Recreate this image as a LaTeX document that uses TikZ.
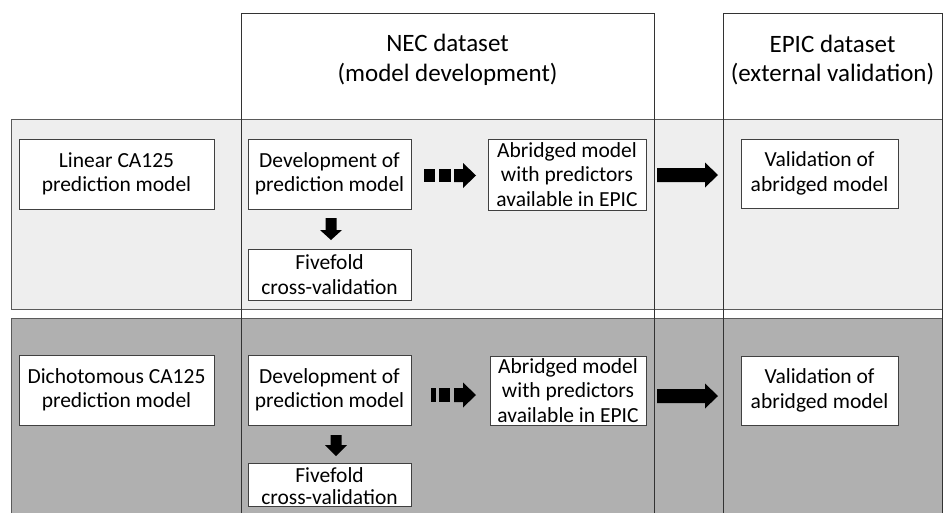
\documentclass[tikz,border=0pt]{standalone}
\usepackage{fontspec}
\setmainfont{Carlito}
\usetikzlibrary{calc}
\definecolor{boxline}{HTML}{404040}
\definecolor{colline}{HTML}{333333}
\definecolor{bandline}{HTML}{5A5A5A}
\definecolor{lightband}{HTML}{EEEEEE}
\definecolor{darkband}{HTML}{B0B0B0}
\begin{document}
\begin{tikzpicture}[x=1pt,y=-1pt,
  box/.style={draw=boxline, fill=white, line width=0.9pt, align=center, inner sep=0pt,
    font=\fontsize{21.5}{24.5}\selectfont},
  txt/.style={align=center, inner sep=0pt, font=\fontsize{21.5}{22.5}\selectfont},
  head/.style={align=center, inner sep=0pt, font=\fontsize{25}{29.5}\selectfont},
  band/.style={draw=bandline, line width=0.8pt},
  col/.style={draw=colline, line width=0.8pt},
  blk/.style={fill=black}]
\useasboundingbox (0,0) rectangle (944,512);
\clip (0,0) rectangle (944,512);
% bands
\path[band, fill=lightband] (11,119) rectangle (942,309);
\path[band, fill=darkband] (11,318) rectangle (942,530);
% columns
\path[col] (241,13) rectangle (654,530);
\path[col] (723,13) rectangle (942,530);
\node[head] (nec) at (447.5,60) {NEC dataset\\(model development)};
\node[head] (epic) at (832.5,60) {EPIC dataset\\(external validation)};
% row 1
\node[box, minimum width=195pt, minimum height=70pt] (lin) at (116.5,174) {Linear CA125\\prediction model};
\node[box, minimum width=163pt, minimum height=70pt] (dev1) at (329.5,174) {Development of\\prediction model};
\node[box, minimum width=158pt, minimum height=71pt] (abr1) at (567,174.5) {Abridged model\\with predictors\\available in EPIC};
\node[box, minimum width=157pt, minimum height=69pt] (val1) at (819.5,173.5) {Validation of\\abridged model};
\node[box, minimum width=163pt, minimum height=51pt] (five1) at (329.5,274.5) {Fivefold\\cross-validation};
% row 2
\node[box, minimum width=195pt, minimum height=70pt] (dich) at (116.5,390) {Dichotomous CA125\\prediction model};
\node[box, minimum width=163pt, minimum height=70pt] (dev2) at (329.5,390) {Development of\\prediction model};
\node[box, minimum width=156pt, minimum height=69pt] (abr2) at (568,390.5) {Abridged model\\with predictors\\available in EPIC};
\node[box, minimum width=157pt, minimum height=69pt] (val2) at (819.5,390.5) {Validation of\\abridged model};
\node[box, minimum width=163pt, minimum height=43pt] (five2) at (329.5,484.5) {};
\node[txt] (five2t) at (329.5,486) {Fivefold\\cross-validation};
% solid block arrows
\coordinate (s1) at (657,175);
\coordinate (s2) at (657,396);
\foreach \c in {s1,s2}
  \fill[blk] (\c) ++(0,-7) -- ++(48,0) -- ++(0,-5.5) -- ++(13,12.5) -- ++(-13,12.5) -- ++(0,-5.5) -- ++(-48,0) -- cycle;
% dashed block arrows
\fill[blk] (424,169) rectangle (435,182);
\fill[blk] (439,169) rectangle (451,182);
\coordinate (d1) at (454,175.5);
\fill[blk] (d1) ++(0,-6.5) -- ++(9,0) -- ++(0,-6) -- ++(13,12.5) -- ++(-13,12.5) -- ++(0,-6) -- ++(-9,0) -- cycle;
\fill[blk] (431,388) rectangle (436,402);
\fill[blk] (439,388) rectangle (450,402);
\coordinate (d2) at (454,395);
\fill[blk] (d2) ++(0,-7) -- ++(9,0) -- ++(0,-5.5) -- ++(13,12.5) -- ++(-13,12.5) -- ++(0,-5.5) -- ++(-9,0) -- cycle;
% down arrows
\coordinate (v1) at (331,218);
\coordinate (v2) at (336,435);
\fill[blk] (v1) ++(-5.5,0) -- ++(11,0) -- ++(0,12) -- ++(5.5,0) -- ++(-11,10) -- ++(-11,-10) -- ++(5.5,0) -- cycle;
\fill[blk] (v2) ++(-5.5,0) -- ++(11,0) -- ++(0,10) -- ++(5.5,0) -- ++(-11,11) -- ++(-11,-11) -- ++(5.5,0) -- cycle;
\end{tikzpicture}
\end{document}
